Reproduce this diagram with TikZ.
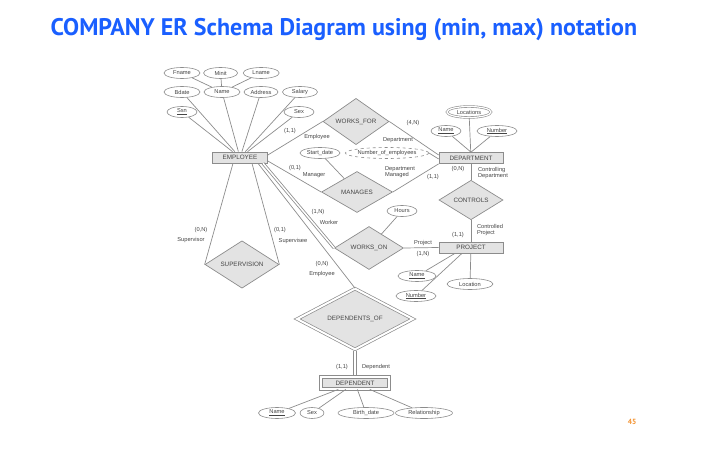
\documentclass[tikz,border=0pt]{standalone}
\usepackage{fontspec}
\setmainfont{Liberation Sans}
\newfontfamily\titlefont{PT Sans}
\usetikzlibrary{positioning, shapes.geometric}
\definecolor{erline}{HTML}{8C8C8C}
\definecolor{erfill}{HTML}{E3E3E3}
\definecolor{ertext}{HTML}{444444}
\definecolor{titleblue}{HTML}{1A5FFF}
\definecolor{pageorange}{HTML}{F39230}

\begin{document}
\begin{tikzpicture}[x=1pt, y=-1pt,
    entity/.style={rectangle, draw=erline, fill=erfill, minimum width=#1, minimum height=11pt,
                   inner sep=0pt, font=\fontsize{6.3}{7}\selectfont, text=ertext, line width=0.7pt},
    entity/.default=55pt,
    relation/.style 2 args={diamond, draw=erline, fill=erfill, minimum width=#1, minimum height=#2,
                   inner sep=0pt, font=\fontsize{6.3}{7}\selectfont, text=ertext, line width=0.7pt},
    attr/.style={ellipse, draw=erline, fill=white, minimum width=#1, minimum height=11pt,
                 inner sep=0pt, font=\fontsize{5.7}{6}\selectfont, text=ertext, line width=0.6pt},
    attr/.default=34pt,
    multi/.style={attr=#1, double, double distance=1.2pt},
    derived/.style={attr=#1, dashed},
    card/.style={inner sep=0pt, font=\fontsize{5.7}{6}\selectfont, text=ertext},
    link/.style={draw=erline, line width=0.7pt},
    total/.style={link, line width=0.8pt, double, double distance=1.5pt}
  ]
    \useasboundingbox (0,0) rectangle (716,473);

    \node[anchor=west, font=\titlefont\bfseries\fontsize{24}{27}\selectfont, text=titleblue] (title) at (47,30) {COMPANY ER Schema Diagram using (min, max) notation};
    \node[font=\titlefont\bfseries\fontsize{7.5}{8}\selectfont, text=pageorange] (pagenum) at (632,422) {45};

    \node[entity] (employee) at (240,157.5) {EMPLOYEE};
    \node[entity=64pt] (department) at (471,158) {DEPARTMENT};
    \node[entity=64pt] (project) at (471,247.5) {PROJECT};
    \node[entity=68pt, minimum height=12pt, line width=0.9pt, double, double distance=2.1pt] (dependent) at (355,383) {DEPENDENT};

    \node[relation={66pt}{43pt}] (worksfor) at (356,121.5) {WORKS\_FOR};
    \node[relation={71pt}{41pt}] (manages) at (357,192) {MANAGES};
    \node[relation={64pt}{34pt}] (controls) at (471,200) {CONTROLS};
    \node[relation={69pt}{43pt}] (workson) at (369,248) {WORKS\_ON};
    \node[relation={74pt}{45pt}] (supervision) at (242,264.5) {SUPERVISION};
    \node[relation={116pt}{60pt}, double, double distance=2pt] (dependentsof) at (355,319) {DEPENDENTS\_OF};

    \node[attr=36pt] (fname) at (182,73) {Fname};
    \node[attr=34pt, right=3pt of fname] (minit) {Minit};
    \node[attr=36pt, right=5pt of minit] (lname) {Lname};
    \node[attr=36pt] (bdate) at (182,92) {Bdate};
    \node[attr=36pt] (empname) at (222,92) {Name};
    \node[attr=34pt] (address) at (261,92) {Address};
    \node[attr=35pt] (salary) at (300,92) {Salary};
    \node[attr=30pt] (ssn) at (182,112) {\underline{Ssn}};
    \node[attr=30pt] (sex) at (299,112) {Sex};

    \node[multi=44pt] (locations) at (469,112) {Locations};
    \node[attr=30pt] (deptname) at (446,131) {\underline{Name}};
    \node[attr=40pt] (deptnumber) at (497,131) {\underline{Number}};
    \node[attr=40pt] (startdate) at (320,153) {Start\_date};
    \node[derived=81pt] (noe) at (387,153) {Number\_of\_employees};

    \node[attr=30pt] (hours) at (402,211) {Hours};
    \node[attr=38pt] (projname) at (417,276) {\underline{Name}};
    \node[attr=40pt] (projnumber) at (416,296) {\underline{Number}};
    \node[attr=46pt] (location) at (470,284) {Location};

    \node[attr=37pt] (depname) at (277,413) {\underline{Name}};
    \node[attr=24pt] (depsex) at (312,413) {Sex};
    \node[attr=56pt] (birthdate) at (366,413) {Birth\_date};
    \node[attr=57pt] (relationship) at (424,413) {Relationship};

    \node[card] (wfempcard) at (290,131) {(1,1)};
    \node[card] (wfemprole) at (317,137.5) {Employee};
    \node[card] (wfdeptcard) at (413,123) {(4,N)};
    \node[card] (wfdeptrole) at (398,140) {Department};
    \node[card] (mgempcard) at (295,168) {(0,1)};
    \node[card] (mgemprole) at (314,175) {Manager};
    \node[card, align=left] (mgdeptrole) at (400,172) {Department\\Managed};
    \node[card] (mgdeptcard) at (433,177) {(1,1)};
    \node[card] (ctdeptcard) at (458,169) {(0,N)};
    \node[card, align=left] (ctdeptrole) at (493,173) {Controlling\\Department};
    \node[card, align=left] (ctprojrole) at (490,230.5) {Controlled\\Project};
    \node[card] (ctprojcard) at (458,235) {(1,1)};
    \node[card] (woempcard) at (318,212.5) {(1,N)};
    \node[card] (woemprole) at (329,222) {Worker};
    \node[card] (woprojrole) at (423,243) {Project};
    \node[card] (woprojcard) at (423,254) {(1,N)};
    \node[card] (svsupcard) at (201,230.5) {(0,N)};
    \node[card] (svsuprole) at (191,240) {Supervisor};
    \node[card] (svseecard) at (280,230.5) {(0,1)};
    \node[card] (svseerole) at (293,241) {Supervisee};
    \node[card] (doempcard) at (322,264.5) {(0,N)};
    \node[card] (doemprole) at (322,274.5) {Employee};
    \node[card] (dodepcard) at (342,367) {(1,1)};
    \node[card] (dodeprole) at (376,367) {Dependent};

    \draw[link] (fname) -- (empname);
    \draw[link] (minit) -- (empname);
    \draw[link] (lname) -- (empname);
    \draw[link] (bdate) -- (employee);
    \draw[link] (empname) -- (employee);
    \draw[link] (address) -- (employee);
    \draw[link] (salary) -- (employee);
    \draw[link] (ssn) -- (employee);
    \draw[link] (sex) -- (employee);

    \draw[link] ([yshift=2.5pt]employee.east) -- (worksfor.west);
    \draw[link] (worksfor.east) -- ([yshift=3pt]department.west);
    \draw[link] ([yshift=-3.5pt]employee.east) -- (manages.west);
    \draw[link] (manages.east) -- (department.south west);
    \draw[link] (startdate) -- (manages);
    \draw[link] (noe.east) -- ([yshift=-1pt]department.west);
    \draw[link] (locations) -- (department);
    \draw[link] (deptname) -- (department.north);
    \draw[link] (deptnumber) -- (department.north);
    \draw[link] (department) -- (controls);
    \draw[link] (controls) -- (project);

    \draw[total] ([xshift=23pt]employee.south) -- (workson.west);
    \draw[link] (hours) -- (workson);
    \draw[link] (workson.east) -- (project.west);
    \draw[link] ([xshift=-16pt]project.south) -- (projname);
    \draw[link] ([xshift=-9pt]project.south) -- (projnumber);
    \draw[link] (project) -- (location);

    \draw[link] ([xshift=-7pt]employee.south) -- (supervision.west);
    \draw[link] ([xshift=12pt]employee.south) -- (supervision.east);
    \draw[link] ([xshift=18pt]employee.south) -- (dependentsof.north);
    \draw[total] ([yshift=-1.5pt]dependentsof.south) -- ([yshift=1.5pt]dependent.north);

    \draw[link] (dependent) -- (depname);
    \draw[link] (dependent) -- (depsex);
    \draw[link] (dependent) -- (birthdate);
    \draw[link] (dependent) -- (relationship);
  \end{tikzpicture}
\end{document}
